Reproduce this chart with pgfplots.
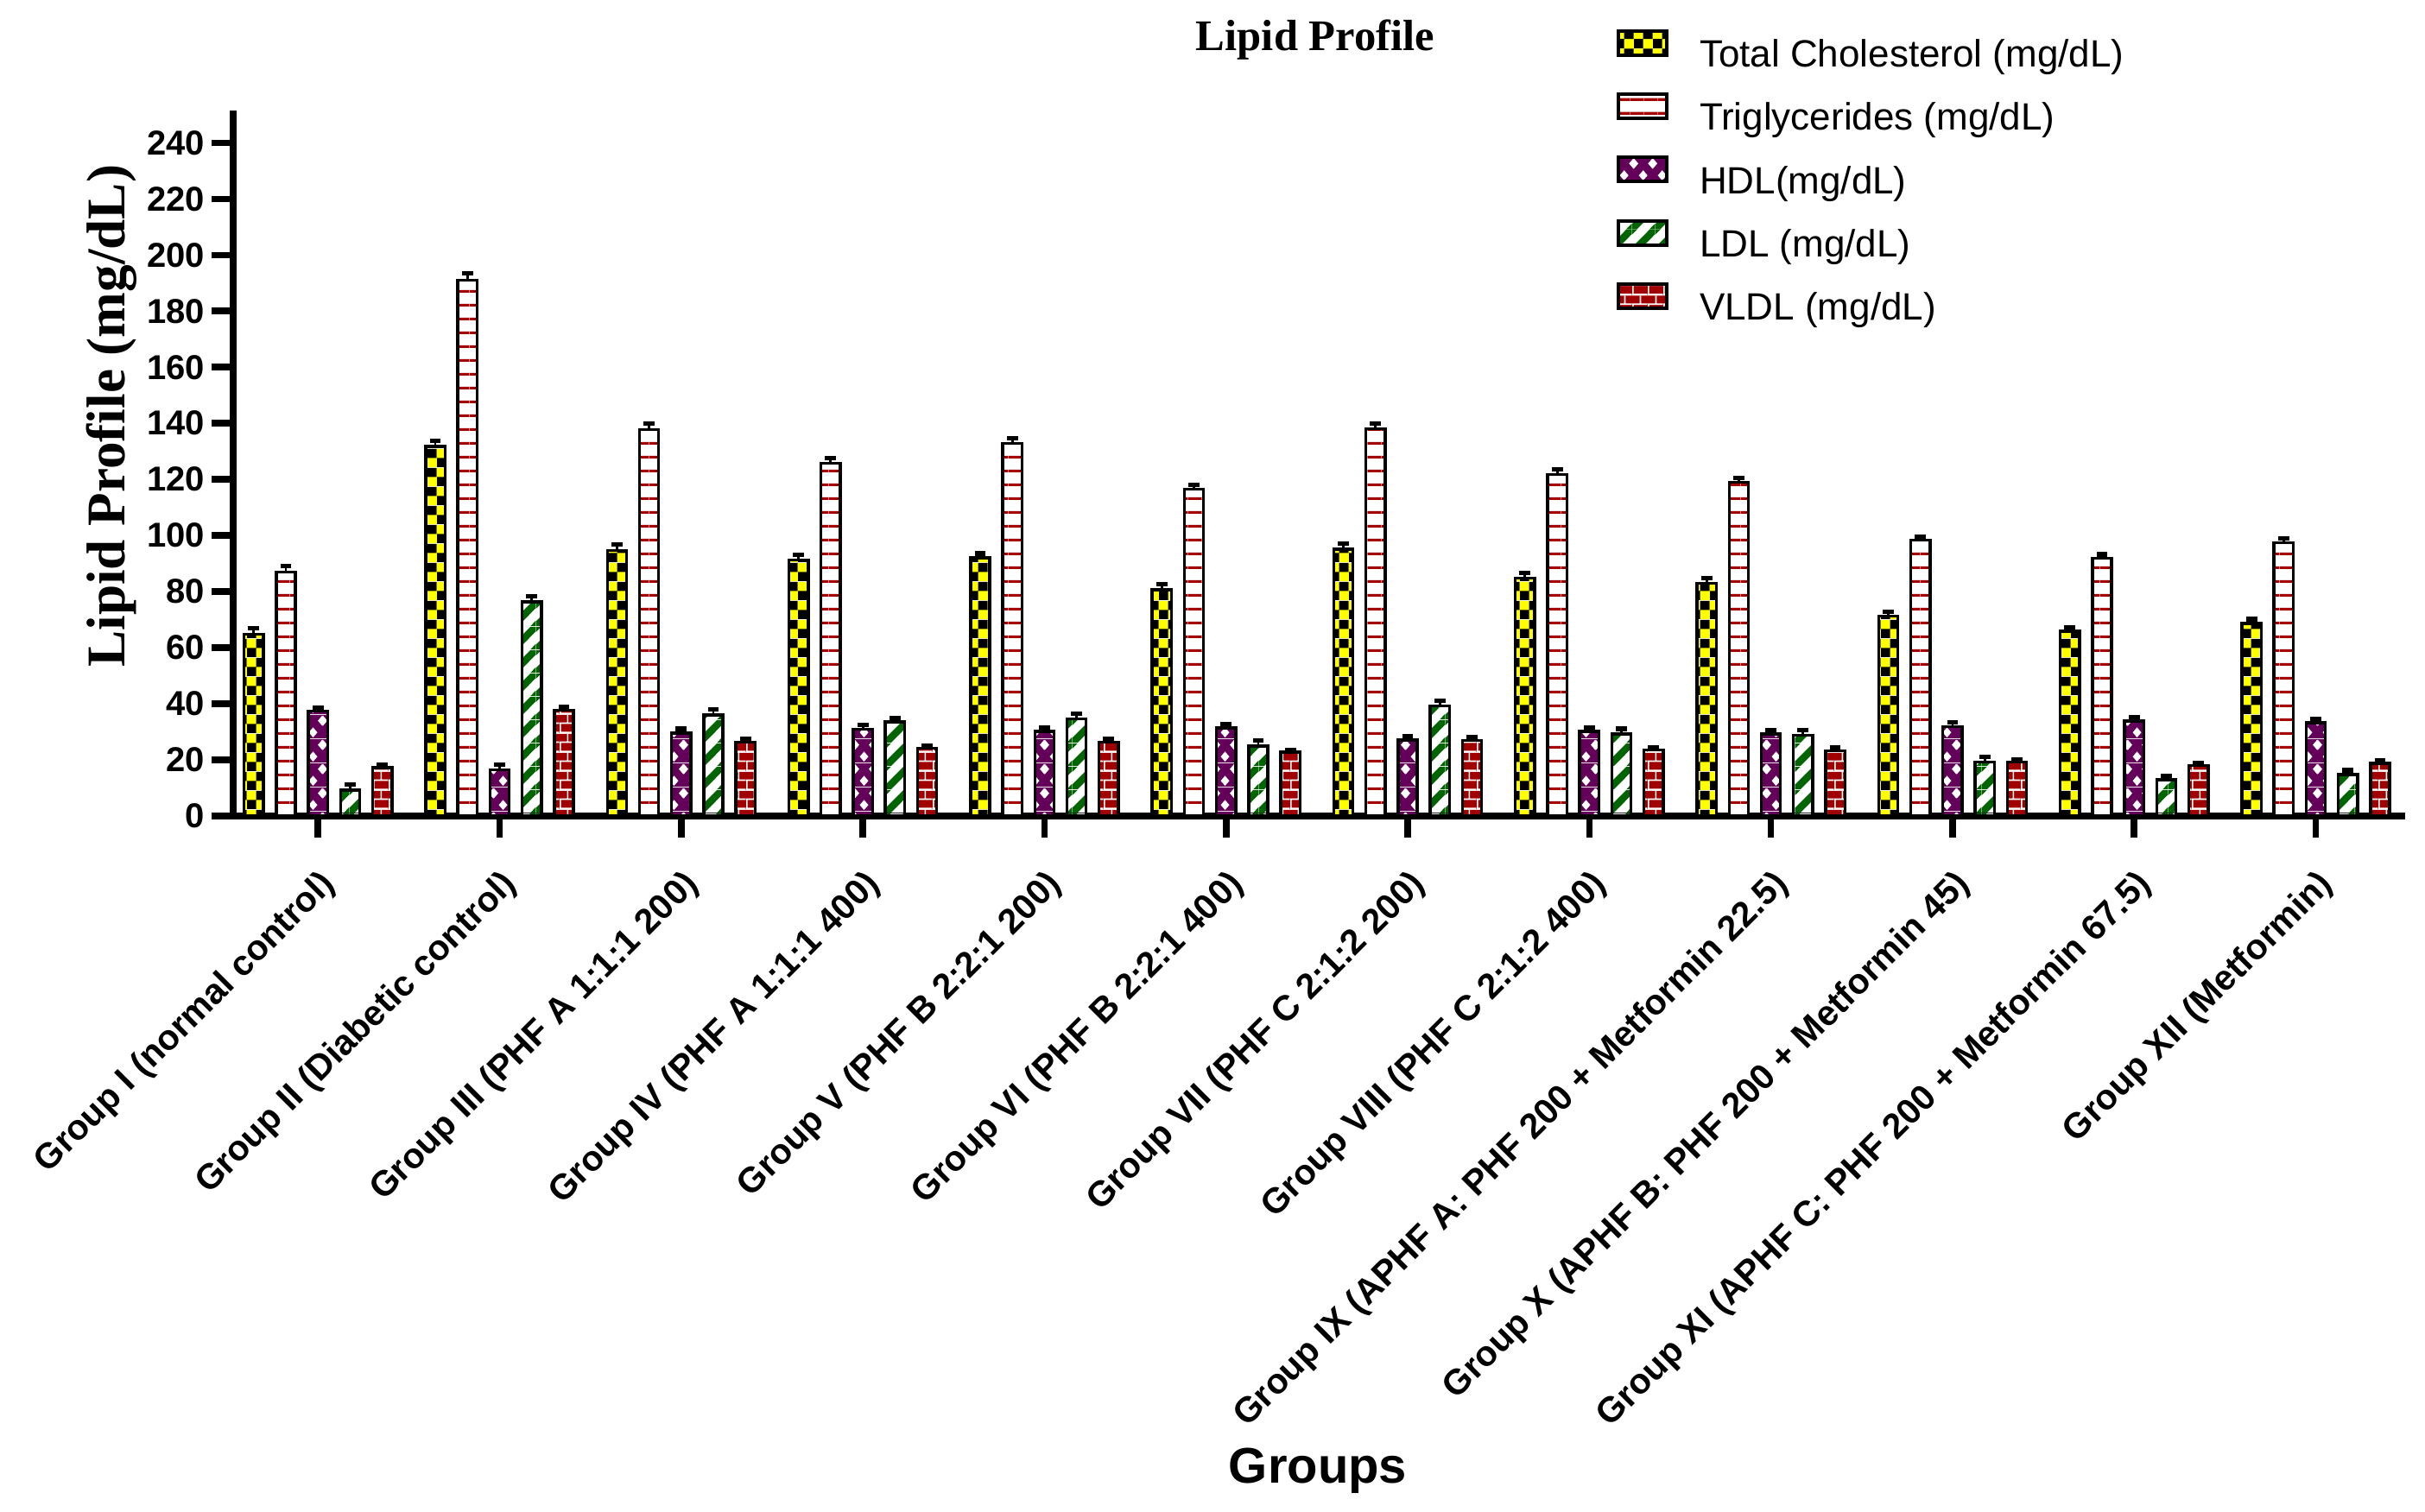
\documentclass[border=0pt]{standalone}
\usepackage{fontspec}
\setmainfont{Liberation Sans}
\newfontfamily\timesfont{Liberation Serif}
\usepackage{pgfplots}
\pgfplotsset{compat=1.18}
\usetikzlibrary{patterns}

\definecolor{tcyellow}{RGB}{255,255,0}
\definecolor{tgred}{RGB}{165,0,0}
\definecolor{hdlpurple}{RGB}{100,0,90}
\definecolor{ldlgreen}{RGB}{0,100,0}
\definecolor{vldlred}{RGB}{160,0,0}

\pgfdeclarepatterninherentlycolored{tcpat}{\pgfpointorigin}{\pgfqpoint{5.5pt}{5.5pt}}{\pgfqpoint{5.5pt}{5.5pt}}{%
  \pgfsetfillcolor{tcyellow}%
  \pgfpathrectangle{\pgfpointorigin}{\pgfqpoint{5.5pt}{5.5pt}}\pgfusepath{fill}%
  \pgfsetfillcolor{black}%
  \pgfpathrectangle{\pgfpointorigin}{\pgfqpoint{2.75pt}{2.75pt}}%
  \pgfpathrectangle{\pgfqpoint{2.75pt}{2.75pt}}{\pgfqpoint{2.75pt}{2.75pt}}%
  \pgfusepath{fill}}
\pgfdeclarepatterninherentlycolored{tgpat}{\pgfpointorigin}{\pgfqpoint{4pt}{4.07pt}}{\pgfqpoint{4pt}{4.07pt}}{%
  \pgfsetfillcolor{white}%
  \pgfpathrectangle{\pgfpointorigin}{\pgfqpoint{4pt}{4.07pt}}\pgfusepath{fill}%
  \pgfsetfillcolor{tgred}%
  \pgfpathrectangle{\pgfqpoint{0pt}{1.6pt}}{\pgfqpoint{4pt}{0.8pt}}%
  \pgfusepath{fill}}
\pgfdeclarepatterninherentlycolored{hdlpat}{\pgfpointorigin}{\pgfqpoint{5.5pt}{7pt}}{\pgfqpoint{5.5pt}{7pt}}{%
  \pgfsetfillcolor{hdlpurple}%
  \pgfpathrectangle{\pgfpointorigin}{\pgfqpoint{5.5pt}{7pt}}\pgfusepath{fill}%
  \pgfsetfillcolor{white}%
  \pgfpathmoveto{\pgfqpoint{1.45pt}{1.75pt}}\pgfpathlineto{\pgfqpoint{2.75pt}{0.25pt}}%
  \pgfpathlineto{\pgfqpoint{4.05pt}{1.75pt}}\pgfpathlineto{\pgfqpoint{2.75pt}{3.25pt}}\pgfpathclose
  \pgfpathmoveto{\pgfqpoint{-1.3pt}{5.25pt}}\pgfpathlineto{\pgfqpoint{0pt}{3.75pt}}%
  \pgfpathlineto{\pgfqpoint{1.3pt}{5.25pt}}\pgfpathlineto{\pgfqpoint{0pt}{6.75pt}}\pgfpathclose
  \pgfpathmoveto{\pgfqpoint{4.2pt}{5.25pt}}\pgfpathlineto{\pgfqpoint{5.5pt}{3.75pt}}%
  \pgfpathlineto{\pgfqpoint{6.8pt}{5.25pt}}\pgfpathlineto{\pgfqpoint{5.5pt}{6.75pt}}\pgfpathclose
  \pgfusepath{fill}}
\pgfdeclarepatterninherentlycolored{ldlpat}{\pgfpointorigin}{\pgfqpoint{6.75pt}{6.75pt}}{\pgfqpoint{6.75pt}{6.75pt}}{%
  \pgfsetfillcolor{white}%
  \pgfpathrectangle{\pgfpointorigin}{\pgfqpoint{6.75pt}{6.75pt}}\pgfusepath{fill}%
  \pgfsetfillcolor{ldlgreen}%
  \pgfpathmoveto{\pgfqpoint{0pt}{0pt}}\pgfpathlineto{\pgfqpoint{1.5pt}{0pt}}%
  \pgfpathlineto{\pgfqpoint{6.75pt}{5.25pt}}\pgfpathlineto{\pgfqpoint{6.75pt}{6.75pt}}%
  \pgfpathlineto{\pgfqpoint{5.25pt}{6.75pt}}\pgfpathlineto{\pgfqpoint{0pt}{1.5pt}}\pgfpathclose
  \pgfpathmoveto{\pgfqpoint{5.25pt}{0pt}}\pgfpathlineto{\pgfqpoint{6.75pt}{0pt}}%
  \pgfpathlineto{\pgfqpoint{6.75pt}{1.5pt}}\pgfpathclose
  \pgfpathmoveto{\pgfqpoint{0pt}{5.25pt}}\pgfpathlineto{\pgfqpoint{0pt}{6.75pt}}%
  \pgfpathlineto{\pgfqpoint{1.5pt}{6.75pt}}\pgfpathclose
  \pgfusepath{fill}}
\pgfdeclarepatterninherentlycolored{vldlpat}{\pgfpointorigin}{\pgfqpoint{4.5pt}{5.5pt}}{\pgfqpoint{4.5pt}{5.5pt}}{%
  \pgfsetfillcolor{vldlred}%
  \pgfpathrectangle{\pgfpointorigin}{\pgfqpoint{4.5pt}{5.5pt}}\pgfusepath{fill}%
  \pgfsetfillcolor{white}%
  \pgfpathrectangle{\pgfqpoint{0pt}{0pt}}{\pgfqpoint{4.5pt}{0.45pt}}%
  \pgfpathrectangle{\pgfqpoint{0pt}{2.75pt}}{\pgfqpoint{4.5pt}{0.45pt}}%
  \pgfpathrectangle{\pgfqpoint{0pt}{0pt}}{\pgfqpoint{0.45pt}{2.75pt}}%
  \pgfpathrectangle{\pgfqpoint{2.25pt}{2.75pt}}{\pgfqpoint{0.45pt}{2.75pt}}%
  \pgfusepath{fill}}

\pgfplotsset{
  mylegend/.style={legend image code/.code={%
     \draw[##1,line width=1pt] (0pt,0.25pt) rectangle (14pt,7.25pt);}},
  tcbar/.style={mylegend, draw=black, line width=0.85pt, pattern=tcpat},
  tgbar/.style={mylegend, draw=black, line width=0.85pt, pattern=tgpat},
  hdlbar/.style={mylegend, draw=black, line width=0.85pt, pattern=hdlpat},
  ldlbar/.style={mylegend, draw=black, line width=0.85pt, pattern=ldlpat},
  vldlbar/.style={mylegend, draw=black, line width=0.85pt, pattern=vldlpat},
}

\begin{document}
\begin{tikzpicture}
\begin{axis}[
  at={(67.5pt,201.25pt)}, anchor=south west,
  scale only axis, width=628.75pt, height=204.25pt,
  ymin=0, ymax=251.5, xmin=-0.467, xmax=11.492,
  ybar, bar width=0.106,
  axis lines*=left,
  axis line style={line width=1.8pt, black},
  tick align=outside, major tick length=6.25pt,
  tick style={line width=1.9pt, black},
  xtick={0,...,11}, ytick={0,20,...,240},
  minor tick num=0,
  /pgf/number format/assume math mode=true,
  yticklabel style={font=\bfseries\fontsize{10}{12}\selectfont, inner sep=0pt, xshift=-1.75pt},
  xticklabels={{Group I (normal control)},{Group II (Diabetic control)},{Group III (PHF A 1:1:1 200)},{Group IV (PHF A 1:1:1 400)},{Group V (PHF B 2:2:1 200)},{Group VI (PHF B 2:2:1 400)},{Group VII (PHF C 2:1:2 200)},{Group VIII (PHF C 2:1:2 400)},{Group IX (APHF A: PHF 200 + Metformin 22.5)},{Group X (APHF B: PHF 200 + Metformin 45)},{Group XI (APHF C: PHF 200 + Metformin 67.5)},{Group XII (Metformin)}},
  xticklabel style={font=\bfseries\fontsize{10.25}{12}\selectfont, rotate=45, anchor=east, inner sep=0pt, xshift=-6pt, yshift=-11pt},
  title={\timesfont\bfseries Lipid Profile},
  title style={font=\fontsize{12.65}{15}\selectfont, at={(axis description cs:0.4982,1.0563)}, anchor=base, inner sep=0pt},
  ylabel={\timesfont\bfseries Lipid Profile (mg/dL)},
  ylabel style={font=\fontsize{15.8}{18}\selectfont, at={(axis description cs:-0.0501,0.567)}, anchor=base, inner sep=0pt},
  xlabel={Groups},
  xlabel style={font=\bfseries\fontsize{14.5}{17}\selectfont, at={(axis description cs:0.4994,-0.946)}, anchor=base, inner sep=0pt},
  legend style={at={(axis description cs:0.6370,1.1155)}, anchor=north west, draw=none, fill=none,
     inner sep=0pt, outer sep=0pt, row sep=5.85pt, font=\fontsize{11}{13}\selectfont,
     nodes={inner sep=0pt}, /tikz/every odd column/.append style={column sep=9pt}},
  legend cell align=left,
  error bars/y dir=plus, error bars/y explicit,
  error bars/error bar style={line width=0.7pt, black},
  error bars/error mark options={rotate=90, mark size=1.6pt, line width=1.3pt, black},
]
\addplot[tcbar, bar shift=-0.354] coordinates {
 (0,64.8) +- (0,2.2) (1,131.8) +- (0,2.0) (2,94.7) +- (0,2.0) (3,91.3) +- (0,1.8)
 (4,92.1) +- (0,1.5) (5,80.7) +- (0,2.0) (6,95.1) +- (0,2.0) (7,84.8) +- (0,1.8)
 (8,82.9) +- (0,2.0) (9,71.3) +- (0,1.5) (10,65.9) +- (0,1.2) (11,68.7) +- (0,1.5)};
\addplot[tgbar, bar shift=-0.177] coordinates {
 (0,87.0) +- (0,2.2) (1,191.0) +- (0,2.5) (2,137.8) +- (0,2.2) (3,125.7) +- (0,2.0)
 (4,132.9) +- (0,1.8) (5,116.6) +- (0,1.5) (6,138.0) +- (0,2.0) (7,121.7) +- (0,2.0)
 (8,118.9) +- (0,1.5) (9,98.3) +- (0,1.2) (10,91.8) +- (0,1.5) (11,97.5) +- (0,1.5)};
\addplot[hdlbar, bar shift=0] coordinates {
 (0,37.4) +- (0,1.3) (1,16.4) +- (0,2.0) (2,29.6) +- (0,1.5) (3,30.9) +- (0,1.5)
 (4,30.2) +- (0,1.2) (5,31.4) +- (0,1.5) (6,27.1) +- (0,1.5) (7,30.2) +- (0,1.2)
 (8,29.2) +- (0,1.5) (9,31.8) +- (0,1.5) (10,33.9) +- (0,1.2) (11,33.2) +- (0,1.5)};
\addplot[ldlbar, bar shift=0.177] coordinates {
 (0,9.2) +- (0,2.0) (1,76.4) +- (0,2.0) (2,36.0) +- (0,2.0) (3,33.5) +- (0,1.5)
 (4,34.6) +- (0,2.0) (5,24.9) +- (0,2.0) (6,39.3) +- (0,1.8) (7,29.3) +- (0,1.8)
 (8,28.7) +- (0,2.0) (9,19.2) +- (0,1.8) (10,12.9) +- (0,1.5) (11,14.8) +- (0,1.5)};
\addplot[vldlbar, bar shift=0.354] coordinates {
 (0,17.2) +- (0,1.0) (1,37.8) +- (0,1.2) (2,26.4) +- (0,1.2) (3,24.2) +- (0,1.0)
 (4,26.3) +- (0,1.2) (5,22.8) +- (0,0.8) (6,27.0) +- (0,1.2) (7,23.5) +- (0,1.0)
 (8,23.3) +- (0,1.0) (9,19.2) +- (0,0.8) (10,18.0) +- (0,1.0) (11,18.8) +- (0,1.0)};
\legend{Total Cholesterol (mg/dL), Triglycerides (mg/dL), HDL(mg/dL), LDL (mg/dL), VLDL (mg/dL)}
\end{axis}
\pgfresetboundingbox
\path[use as bounding box] (0,0) rectangle (702pt,437.5pt);
\end{tikzpicture}
\end{document}
